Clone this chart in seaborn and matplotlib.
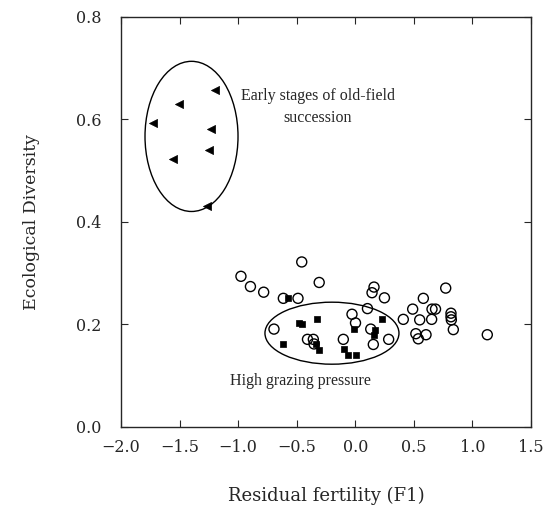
import pandas as pd
import matplotlib.pyplot as plt
import seaborn as sns
from matplotlib.patches import Ellipse

# early old-field succession sites (filled triangles)
early_x = [-1.198, -1.509, -1.731, -1.232, -1.245, -1.556, -1.266]
early_y = [0.658, 0.630, 0.593, 0.581, 0.540, 0.523, 0.432]

# high grazing pressure sites (filled squares)
grazed_x = [-0.574, -0.480, -0.451, -0.327, -0.613, -0.335, -0.310,
            -0.092, -0.065, 0.002, -0.013, 0.226, 0.168, 0.162]
grazed_y = [0.252, 0.202, 0.201, 0.210, 0.162, 0.161, 0.150,
            0.152, 0.141, 0.141, 0.191, 0.211, 0.190, 0.180]

# other sites (open circles)
other_x = [-0.976, -0.895, -0.782, -0.614, -0.489, -0.457, -0.308, -0.694,
           -0.408, -0.358, -0.352, -0.102, -0.028, 0.002, 0.104, 0.143,
           0.160, 0.249, 0.132, 0.154, 0.285, 0.410, 0.490, 0.581, 0.772,
           0.655, 0.685, 0.550, 0.652, 0.817, 0.817, 0.820, 0.837, 0.517,
           0.538, 0.604, 1.127]
other_y = [0.294, 0.274, 0.263, 0.251, 0.251, 0.322, 0.282, 0.191,
           0.171, 0.171, 0.162, 0.171, 0.220, 0.203, 0.231, 0.262,
           0.273, 0.252, 0.191, 0.161, 0.171, 0.210, 0.230, 0.251, 0.271,
           0.230, 0.230, 0.209, 0.210, 0.222, 0.215, 0.209, 0.190, 0.182,
           0.172, 0.180, 0.180]

x_ticks = [-2.0, -1.5, -1.0, -0.5, 0.0, 0.5, 1.0, 1.5]
y_ticks = [0.0, 0.2, 0.4, 0.6, 0.8]

sns.set_style("ticks")
plt.rcParams["font.family"] = ["DejaVu Serif"]

fig = plt.figure(figsize=(5.46, 5.31), dpi=100)
ax = fig.add_axes([0.2216, 0.1959, 0.7509, 0.7721])

df_other = pd.DataFrame({"x": other_x, "y": other_y})
df_grazed = pd.DataFrame({"x": grazed_x, "y": grazed_y})
df_early = pd.DataFrame({"x": early_x, "y": early_y})

sns.scatterplot(data=df_other, x="x", y="y", ax=ax, marker="o", s=52,
                facecolors="none", edgecolor="black", linewidth=1.0)
sns.scatterplot(data=df_grazed, x="x", y="y", ax=ax, marker="s", s=24,
                color="black", edgecolor="black", linewidth=0.5)
sns.scatterplot(data=df_early, x="x", y="y", ax=ax, marker="<", s=34,
                color="black", edgecolor="black", linewidth=0.5)

ax.add_patch(Ellipse((-1.398, 0.567), 0.794, 0.293, fill=False,
                     edgecolor="black", linewidth=1.0))
ax.add_patch(Ellipse((-0.199, 0.183), 1.144, 0.121, fill=False,
                     edgecolor="black", linewidth=1.0))

ax.text(-0.318, 0.624, "Early stages of old-field\nsuccession", ha="center",
        va="center", fontsize=11.5, family=["Liberation Serif"],
        linespacing=1.45)
ax.text(-0.468, 0.090, "High grazing pressure", ha="center", va="center",
        fontsize=11.5, family=["Liberation Serif"])

ax.set_xlim(-2.0, 1.5)
ax.set_ylim(0.0, 0.8)
ax.set_xticks(x_ticks)
ax.set_yticks(y_ticks)
ax.set_xticklabels([f"{v:.1f}".replace("-", "\u2212") for v in x_ticks])
ax.set_yticklabels([f"{v:.1f}" for v in y_ticks])
ax.tick_params(direction="in", top=True, right=True, length=5, width=0.8,
               labelsize=11.5)
ax.tick_params(axis="x", pad=9)
ax.tick_params(axis="y", pad=14)
for sp in ax.spines.values():
    sp.set_linewidth(1.0)

ax.set_xlabel("Residual fertility (F1)", fontsize=13, labelpad=22)
ax.set_ylabel("Ecological Diversity", fontsize=12.5, labelpad=26)

plt.savefig("out.png", dpi=100)
